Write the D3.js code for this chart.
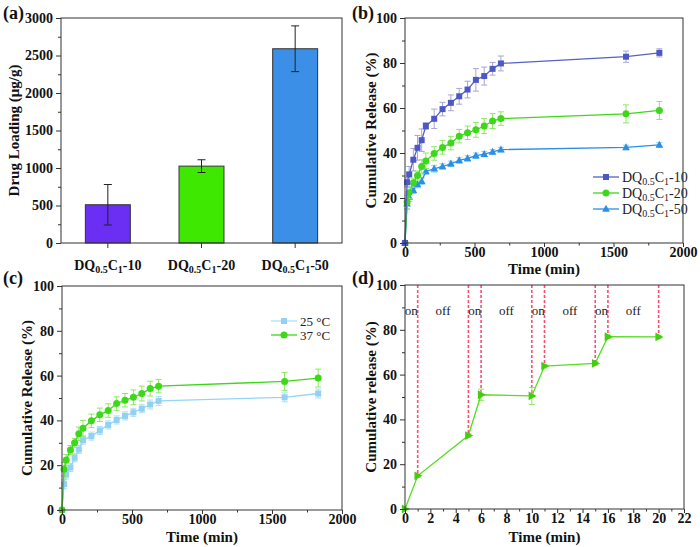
<!DOCTYPE html>
<html><head><meta charset="utf-8">
<script src="https://cdn.jsdelivr.net/npm/d3@7"></script>
<style>body{margin:0;background:#fff}svg{display:block}</style>
</head><body>
<svg id="c" width="700" height="547"></svg>
<script>
// ---------- DATA ----------
const barCategories = ["DQ0.5C1-10", "DQ0.5C1-20", "DQ0.5C1-50"];
const barValues = [510, 1025, 2590];
const barErrors = [270, 85, 305];
const barTicks = [0, 500, 1000, 1500, 2000, 2500, 3000];

const timeB = [0,15,30,60,90,120,150,210,270,330,390,450,510,570,630,690,1590,1830];
const dq10 = [0,27,30.5,37,42.3,45.7,52,55.2,59.5,62.3,65.2,68.2,72.5,74.2,77.4,79.8,82.8,84.5];
const dq10Err = [0,2,3.5,5,5.5,5,1.5,4.3,3,3.5,3.5,3.7,5,4,2.8,3.3,2.5,1.8];
const dq20 = [0,18.2,22.3,26.8,30,34,36.5,39.8,42.5,44.4,47.5,49,50.3,52,54.2,55.3,57.4,58.9];
const dq20Err = [0,3,2.5,2,2,3,3.5,3,3,3,3,3,3.3,3.3,3.3,3,4,4];
const dq50 = [0,17.5,20.5,23.5,26,27.5,31.8,33,34,35.2,36.7,37.6,38.8,39.5,40.5,41.5,42.5,43.6];
const dq50Err = [0,2.5,2,1.5,1.5,1.5,1.2,1.5,1.2,1.2,1.2,1.2,1.2,1.2,1,1,1,1];
const seriesNamesB = ["DQ0.5C1-10", "DQ0.5C1-20", "DQ0.5C1-50"];

const t25 = [0,11.5,15.8,19,23.3,27,31.2,33,35.5,38,40.2,42,43.6,45.2,47.1,48.7,50.3,52];
const t25Err = [0,2,2,1.8,1.8,1.8,1.8,1.8,1.8,1.8,1.8,1.8,1.8,1.8,2,2,2,2];
const t37 = dq20;
const t37Err = dq20Err;
const seriesNamesC = ["25 °C", "37 °C"];

const timeD = [0,1,5,6,10,11,15,16,20];
const releaseD = [0,14.8,32.8,51,50.5,63.8,65,76.9,76.8];
const releaseDErr = [0,0.8,0.8,2.5,3.8,0.8,0.8,0.8,0.8];
const switchTimes = [1,5,6,10,11,15,16,20];
const stateLabels = ["on","off","on","off","on","off","on","off"];
const stateLabelTimes = [0.5,3,5.5,8,10.5,13,15.5,18];

const timeTicks = [0,500,1000,1500,2000];
const releaseTicks = [0,20,40,60,80,100];
const timeDTicks = [0,2,4,6,8,10,12,14,16,18,20,22];

// ---------- HELPERS ----------
const svg = d3.select("#c");
const FONT = "'Times New Roman','Liberation Serif',serif";

function subLabel(sel, s, big, small) {
  const m = s.match(/^(DQ)([\d.]+)(C)(\d+)(-\d+)$/);
  sel.text(null);
  sel.append("tspan").text(m[1]);
  sel.append("tspan").attr("font-size", small).attr("dy", 3).text(m[2]);
  sel.append("tspan").attr("dy", -3).text(m[3]);
  sel.append("tspan").attr("font-size", small).attr("dy", 3).text(m[4]);
  sel.append("tspan").attr("dy", -3).text(m[5]);
}

function frame(g, box) {
  g.append("rect").attr("x", box.l).attr("y", box.t)
    .attr("width", box.r - box.l).attr("height", box.b - box.t)
    .attr("fill", "none").attr("stroke", "#333").attr("stroke-width", 1);
}

function yAxis(g, y, box, ticks, minor) {
  const a = g.append("g").attr("transform", `translate(${box.l},0)`)
    .call(d3.axisLeft(y).tickValues(ticks).tickSize(5).tickPadding(3).tickFormat(d3.format("d")));
  a.select(".domain").remove();
  a.selectAll("line").attr("stroke", "#333");
  a.selectAll("text").attr("font-family", FONT).attr("font-weight", "bold").attr("font-size", 14).attr("fill", "#111");
  if (minor) {
    const b = g.append("g").attr("transform", `translate(${box.l},0)`)
      .call(d3.axisLeft(y).tickValues(minor).tickSize(3).tickFormat(""));
    b.select(".domain").remove();
    b.selectAll("line").attr("stroke", "#333");
  }
}

function xAxis(g, x, box, ticks, minor) {
  const a = g.append("g").attr("transform", `translate(0,${box.b})`)
    .call(d3.axisBottom(x).tickValues(ticks).tickSize(4).tickPadding(0).tickFormat(d3.format("d")));
  a.select(".domain").remove();
  a.selectAll("line").attr("stroke", "#333");
  a.selectAll("text").attr("font-family", FONT).attr("font-weight", "bold").attr("font-size", 14).attr("fill", "#111");
  if (minor) {
    const b = g.append("g").attr("transform", `translate(0,${box.b})`)
      .call(d3.axisBottom(x).tickValues(minor).tickSize(2.5).tickFormat(""));
    b.select(".domain").remove();
    b.selectAll("line").attr("stroke", "#333");
  }
}

function title(g, txt, x, y, rot) {
  const t = g.append("text").attr("font-family", FONT).attr("font-weight", "bold")
    .attr("font-size", 15).attr("fill", "#111").attr("text-anchor", "middle").text(txt);
  if (rot) t.attr("transform", `translate(${x},${y}) rotate(-90)`);
  else t.attr("x", x).attr("y", y);
}

function panelLabel(txt, x, y) {
  svg.append("text").attr("x", x).attr("y", y).attr("font-family", FONT)
    .attr("font-weight", "bold").attr("font-size", 18).attr("fill", "#111").text(txt);
}

function marker(g, type, cx, cy, color, size) {
  if (type === "square") {
    g.append("rect").attr("x", cx - size/2).attr("y", cy - size/2).attr("width", size).attr("height", size).attr("fill", color);
  } else if (type === "circle") {
    g.append("circle").attr("cx", cx).attr("cy", cy).attr("r", size/2).attr("fill", color);
  } else if (type === "triangle") {
    const h = size;
    g.append("path").attr("d", `M${cx},${cy - h*0.6}L${cx + h*0.55},${cy + h*0.4}L${cx - h*0.55},${cy + h*0.4}Z`).attr("fill", color);
  } else if (type === "right") {
    const h = size;
    g.append("path").attr("d", `M${cx + h*0.6},${cy}L${cx - h*0.4},${cy - h*0.55}L${cx - h*0.4},${cy + h*0.55}Z`).attr("fill", color);
  }
}

function series(g, x, y, xs, ys, es, lineColor, errColor, mColor, mType, mSize) {
  const pts = xs.map((t, i) => ({t, v: ys[i], e: es[i]}));
  pts.forEach(p => {
    if (p.e > 0) {
      const x0 = x(p.t), y1 = y(p.v + p.e), y2 = y(p.v - p.e);
      g.append("line").attr("x1", x0).attr("x2", x0).attr("y1", y1).attr("y2", y2).attr("stroke", errColor).attr("stroke-width", 1);
      [y1, y2].forEach(yy => g.append("line").attr("x1", x0 - 3).attr("x2", x0 + 3).attr("y1", yy).attr("y2", yy).attr("stroke", errColor).attr("stroke-width", 1));
    }
  });
  g.append("path").datum(pts).attr("fill", "none").attr("stroke", lineColor).attr("stroke-width", 1.3)
    .attr("d", d3.line().x(p => x(p.t)).y(p => y(p.v)));
  pts.forEach(p => marker(g, mType, x(p.t), y(p.v), mColor, mSize));
}

function legend(g, items, x0, x1, tx, ys, fs) {
  items.forEach((it, i) => {
    const yy = ys[i];
    g.append("line").attr("x1", x0).attr("x2", x1).attr("y1", yy).attr("y2", yy).attr("stroke", it.line).attr("stroke-width", 1.3);
    marker(g, it.type, (x0 + x1) / 2, yy, it.marker, it.size);
    const t = g.append("text").attr("x", tx).attr("y", yy + 4.5).attr("font-family", FONT).attr("font-size", fs).attr("fill", "#222");
    if (it.sub) subLabel(t, it.name, fs, 10); else t.text(it.name);
  });
}

// ---------- PANEL A ----------
(function () {
  const box = {l: 61, r: 342, t: 18, b: 243};
  const g = svg.append("g");
  const x = d3.scaleBand().domain(barCategories).range([box.l, box.r]).paddingInner(0.52).paddingOuter(0.26);
  const y = d3.scaleLinear().domain([0, 3000]).range([box.b, box.t]);
  const colors = ["#6a2ff2", "#3ee800", "#3b8fe6"];
  barCategories.forEach((c, i) => {
    g.append("rect").attr("x", x(c)).attr("y", y(barValues[i])).attr("width", x.bandwidth())
      .attr("height", y(0) - y(barValues[i])).attr("fill", colors[i]).attr("stroke", "#333").attr("stroke-width", 1);
    const cx = x(c) + x.bandwidth() / 2, y1 = y(barValues[i] + barErrors[i]), y2 = y(barValues[i] - barErrors[i]);
    g.append("line").attr("x1", cx).attr("x2", cx).attr("y1", y1).attr("y2", y2).attr("stroke", "#222").attr("stroke-width", 1);
    [y1, y2].forEach(yy => g.append("line").attr("x1", cx - 4).attr("x2", cx + 4).attr("y1", yy).attr("y2", yy).attr("stroke", "#222").attr("stroke-width", 1));
  });
  frame(g, box);
  yAxis(g, y, box, barTicks, [250, 750, 1250, 1750, 2250, 2750]);
  const xa = g.append("g").attr("transform", `translate(0,${box.b})`)
    .call(d3.axisBottom(x).tickSize(5).tickPadding(12));
  xa.select(".domain").remove();
  xa.selectAll("line").attr("stroke", "#333");
  xa.selectAll("text").attr("font-family", FONT).attr("font-weight", "bold").attr("font-size", 14).attr("fill", "#111")
    .each(function (d) { subLabel(d3.select(this), d, 14, 10); });
  title(g, "Drug Loading (μg/g)", 19, (box.t + box.b) / 2, true);
  panelLabel("(a)", 3, 19);
})();

// ---------- PANEL B ----------
(function () {
  const box = {l: 405, r: 683, t: 18, b: 243};
  const g = svg.append("g");
  const x = d3.scaleLinear().domain([0, 2000]).range([box.l, box.r]);
  const y = d3.scaleLinear().domain([0, 100]).range([box.b, box.t]);
  series(g, x, y, timeB, dq50, dq50Err, "#2b8fe8", "#86d6f2", "#2b8fe8", "triangle", 7);
  series(g, x, y, timeB, dq20, dq20Err, "#3cd81a", "#8ee860", "#3cd81a", "circle", 7);
  series(g, x, y, timeB, dq10, dq10Err, "#5661c2", "#a7a7cf", "#4d58c6", "square", 6);
  frame(g, box);
  yAxis(g, y, box, releaseTicks, [10, 30, 50, 70, 90]);
  xAxis(g, x, box, timeTicks, [250, 750, 1250, 1750]);
  legend(g, [
    {name: seriesNamesB[0], line: "#5661c2", marker: "#4d58c6", type: "square", size: 6, sub: true},
    {name: seriesNamesB[1], line: "#3cd81a", marker: "#3cd81a", type: "circle", size: 7, sub: true},
    {name: seriesNamesB[2], line: "#2b8fe8", marker: "#2b8fe8", type: "triangle", size: 7, sub: true}
  ], 593, 619, 622, [177, 193, 209], 14);
  title(g, "Time (min)", (box.l + box.r) / 2, 274, false);
  title(g, "Cumulative Release (%)", 376, (box.t + box.b) / 2, true);
  panelLabel("(b)", 352, 19);
})();

// ---------- PANEL C ----------
(function () {
  const box = {l: 62, r: 342, t: 286, b: 510};
  const g = svg.append("g");
  const x = d3.scaleLinear().domain([0, 2000]).range([box.l, box.r]);
  const y = d3.scaleLinear().domain([0, 100]).range([box.b, box.t]);
  series(g, x, y, timeB, t25, t25Err, "#93d6f4", "#a8e0f6", "#93d0f2", "square", 6);
  series(g, x, y, timeB, t37, t37Err, "#3cd81a", "#8ee860", "#3cd81a", "circle", 7);
  frame(g, box);
  yAxis(g, y, box, releaseTicks, [10, 30, 50, 70, 90]);
  xAxis(g, x, box, timeTicks, [250, 750, 1250, 1750]);
  legend(g, [
    {name: seriesNamesC[0], line: "#a8e0f6", marker: "#93d0f2", type: "square", size: 6},
    {name: seriesNamesC[1], line: "#3cd81a", marker: "#3cd81a", type: "circle", size: 7}
  ], 271, 297, 300, [321, 335], 13);
  title(g, "Time (min)", (box.l + box.r) / 2, 542, false);
  title(g, "Cumulative Release (%)", 32, (box.t + box.b) / 2, true);
  panelLabel("(c)", 3, 284);
})();

// ---------- PANEL D ----------
(function () {
  const box = {l: 405, r: 684, t: 285, b: 509};
  const g = svg.append("g");
  const x = d3.scaleLinear().domain([0, 22]).range([box.l, box.r]);
  const y = d3.scaleLinear().domain([0, 100]).range([box.b, box.t]);
  switchTimes.forEach(t => {
    const i = timeD.indexOf(t);
    g.append("line").attr("x1", x(t)).attr("x2", x(t)).attr("y1", y(100)).attr("y2", y(releaseD[i]))
      .attr("stroke", "#ff4d6d").attr("stroke-width", 1.6).attr("stroke-dasharray", "3,2");
  });
  stateLabels.forEach((s, i) => {
    g.append("text").attr("x", x(stateLabelTimes[i])).attr("y", y(86.5)).attr("text-anchor", "middle")
      .attr("font-family", FONT).attr("font-size", 13).attr("fill", "#222").text(s);
  });
  series(g, x, y, timeD, releaseD, releaseDErr, "#55dd22", "#8ee860", "#44cc11", "right", 8);
  frame(g, box);
  yAxis(g, y, box, releaseTicks, [10, 30, 50, 70, 90]);
  xAxis(g, x, box, timeDTicks, d3.range(1, 22, 2));
  title(g, "Time (min)", (box.l + box.r) / 2, 542, false);
  title(g, "Cumulative release (%)", 376, (box.t + box.b) / 2, true);
  panelLabel("(d)", 352, 284);
})();
</script>
</body></html>
